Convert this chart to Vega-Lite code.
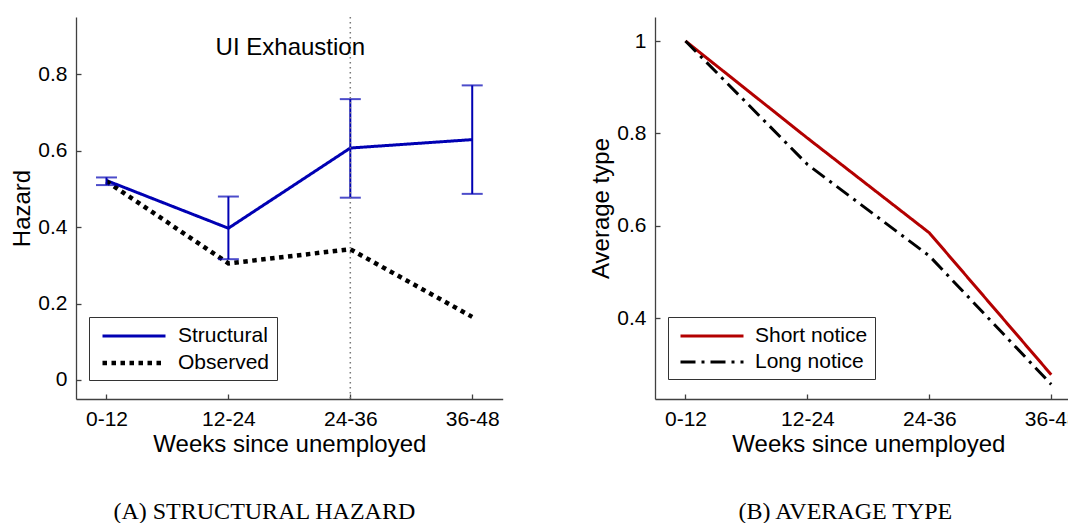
{
  "$schema": "https://vega.github.io/schema/vega-lite/v6.json",
  "padding": {"left": 10, "top": 16, "right": 0, "bottom": 0},
  "background": "white",
  "spacing": 86,
  "datasets": {
    "hazard": [
      {"weeks": "0-12", "series": "Structural", "value": 0.522, "lo": 0.510, "hi": 0.530},
      {"weeks": "12-24", "series": "Structural", "value": 0.397, "lo": 0.316, "hi": 0.480},
      {"weeks": "24-36", "series": "Structural", "value": 0.607, "lo": 0.477, "hi": 0.735},
      {"weeks": "36-48", "series": "Structural", "value": 0.629, "lo": 0.487, "hi": 0.771},
      {"weeks": "0-12", "series": "Observed", "value": 0.52},
      {"weeks": "12-24", "series": "Observed", "value": 0.305},
      {"weeks": "24-36", "series": "Observed", "value": 0.342},
      {"weeks": "36-48", "series": "Observed", "value": 0.165}
    ],
    "avgtype": [
      {"weeks": "0-12", "series": "Short notice", "value": 1.0},
      {"weeks": "12-24", "series": "Short notice", "value": 0.79},
      {"weeks": "24-36", "series": "Short notice", "value": 0.585},
      {"weeks": "36-48", "series": "Short notice", "value": 0.278},
      {"weeks": "0-12", "series": "Long notice", "value": 1.0},
      {"weeks": "12-24", "series": "Long notice", "value": 0.733},
      {"weeks": "24-36", "series": "Long notice", "value": 0.535},
      {"weeks": "36-48", "series": "Long notice", "value": 0.257}
    ],
    "annot": [
      {"weeks": "24-36", "label": "UI Exhaustion", "y": 0.85}
    ]
  },
  "hconcat": [
    {
      "width": 426.7,
      "height": 382,
      "title": {"text": "(A) STRUCTURAL HAZARD", "orient": "bottom", "anchor": "middle", "font": "Liberation Serif", "fontSize": 24, "fontWeight": "normal", "color": "black", "baseline": "alphabetic", "offset": 63, "dx": -25},
      "data": {"name": "hazard"},
      "encoding": {
        "x": {"field": "weeks", "type": "ordinal", "sort": ["0-12", "12-24", "24-36", "36-48"], "scale": {"type": "point", "padding": 0.25}, "axis": {"title": "Weeks since unemployed", "labelAngle": 0}}
      },
      "layer": [
        {
          "mark": {"type": "line", "strokeCap": "butt", "strokeJoin": "miter"},
          "encoding": {
            "y": {"field": "value", "type": "quantitative", "scale": {"domain": [-0.05, 0.95], "nice": false, "zero": false}, "axis": {"title": "Hazard", "values": [0, 0.2, 0.4, 0.6, 0.8], "format": "~g"}},
            "color": {"field": "series", "type": "nominal", "scale": {"domain": ["Structural", "Observed"], "range": ["#0000b3", "#000000"]}, "legend": {"orient": "none", "legendX": 13, "legendY": 300, "labelExpr": "datum.label + '   '"}},
            "strokeDash": {"field": "series", "type": "nominal", "scale": {"domain": ["Structural", "Observed"], "range": [[1, 0], [4.5, 4.5]]}, "legend": {"orient": "none", "legendX": 13, "legendY": 300, "labelExpr": "datum.label + '   '"}},
            "strokeWidth": {"field": "series", "type": "nominal", "scale": {"domain": ["Structural", "Observed"], "range": [3, 4.5]}, "legend": {"orient": "none", "legendX": 13, "legendY": 300, "labelExpr": "datum.label + '   '"}}
          }
        },
        {
          "transform": [{"filter": "datum.series === 'Structural'"}],
          "mark": {"type": "rule", "color": "#0000b3", "strokeWidth": 2},
          "encoding": {"y": {"field": "lo", "type": "quantitative"}, "y2": {"field": "hi"}}
        },
        {
          "transform": [{"filter": "datum.series === 'Structural'"}],
          "mark": {"type": "tick", "color": "#0000b3", "orient": "horizontal", "size": 21, "thickness": 2},
          "encoding": {"y": {"field": "lo", "type": "quantitative"}}
        },
        {
          "transform": [{"filter": "datum.series === 'Structural'"}],
          "mark": {"type": "tick", "color": "#0000b3", "orient": "horizontal", "size": 21, "thickness": 2},
          "encoding": {"y": {"field": "hi", "type": "quantitative"}}
        },
        {
          "data": {"name": "annot"},
          "mark": {"type": "rule", "color": "#777777", "strokeWidth": 1.5, "strokeDash": [1.5, 3.5]},
          "encoding": {"x": {"field": "weeks", "type": "ordinal", "sort": ["0-12", "12-24", "24-36", "36-48"]}}
        },
        {
          "data": {"name": "annot"},
          "mark": {"type": "text", "font": "Liberation Sans", "fontSize": 24, "color": "black", "align": "center", "baseline": "alphabetic", "dx": -60},
          "encoding": {
            "x": {"field": "weeks", "type": "ordinal", "sort": ["0-12", "12-24", "24-36", "36-48"]},
            "y": {"field": "y", "type": "quantitative"},
            "text": {"field": "label"}
          }
        }
      ]
    },
    {
      "width": 426.7,
      "height": 382,
      "title": {"text": "(B) AVERAGE TYPE", "orient": "bottom", "anchor": "middle", "font": "Liberation Serif", "fontSize": 24, "fontWeight": "normal", "color": "black", "baseline": "alphabetic", "offset": 63, "dx": -23},
      "data": {"name": "avgtype"},
      "mark": {"type": "line", "strokeCap": "butt", "strokeJoin": "miter", "strokeWidth": 3},
      "encoding": {
        "x": {"field": "weeks", "type": "ordinal", "sort": ["0-12", "12-24", "24-36", "36-48"], "scale": {"type": "point", "padding": 0.25}, "axis": {"title": "Weeks since unemployed", "labelAngle": 0}},
        "y": {"field": "value", "type": "quantitative", "scale": {"domain": [0.2254, 1.052], "nice": false, "zero": false}, "axis": {"title": "Average type", "values": [0.4, 0.6, 0.8, 1], "format": "~g"}},
        "color": {"field": "series", "type": "nominal", "scale": {"domain": ["Short notice", "Long notice"], "range": ["#b30000", "#000000"]}, "legend": {"orient": "none", "legendX": 13, "legendY": 300, "labelExpr": "datum.label + '   '"}},
        "strokeDash": {"field": "series", "type": "nominal", "scale": {"domain": ["Short notice", "Long notice"], "range": [[1, 0], [15, 6, 3, 6]]}, "legend": {"orient": "none", "legendX": 13, "legendY": 300, "labelExpr": "datum.label + '   '"}}
      }
    }
  ],
  "resolve": {"scale": {"color": "independent", "strokeDash": "independent", "strokeWidth": "independent", "x": "independent", "y": "independent"}, "legend": {"color": "independent", "strokeDash": "independent"}},
  "config": {
    "view": {"stroke": null},
    "axis": {
      "grid": false,
      "domainColor": "#404040",
      "domainWidth": 1.3,
      "tickColor": "#404040",
      "tickWidth": 1.3,
      "tickSize": -5,
      "labelPadding": 14,
      "labelFont": "Liberation Sans",
      "labelFontSize": 21,
      "labelColor": "black",
      "titleFont": "Liberation Sans",
      "titleFontSize": 24,
      "titleFontWeight": "normal",
      "titleColor": "black",
      "titlePadding": 3
    },
    "legend": {
      "title": null,
      "symbolType": "M-1,0H5",
      "symbolSize": 441,
      "symbolStrokeWidth": 3,
      "symbolStrokeColor": "black",
      "symbolOffset": 4,
      "labelFont": "Liberation Sans",
      "labelFontSize": 21,
      "labelColor": "black",
      "labelOffset": 52,
      "rowPadding": 4,
      "padding": 7,
      "strokeColor": "#333333",
      "fillColor": "white",
      "cornerRadius": 0
    }
  }
}
